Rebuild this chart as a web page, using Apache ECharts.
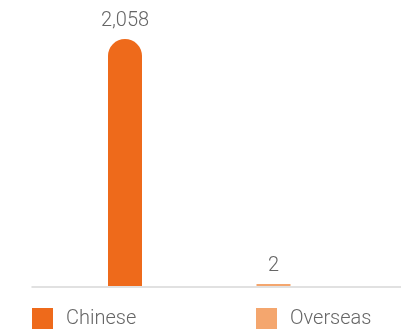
<!DOCTYPE html>
<html>
<head>
<meta charset="utf-8">
<script src="https://cdn.jsdelivr.net/npm/echarts@6/dist/echarts.min.js"></script>
<style>html,body{margin:0;padding:0;background:#fff}#c{width:401px;height:329px}</style>
</head>
<body>
<div id="c"></div>
<script>
var categories = ['Chinese', 'Overseas'];
var chineseValues = [2058, '-'];
var overseasValues = ['-', 2];
var colors = ['#EE6A1B', '#F4A66E'];

var chart = echarts.init(document.getElementById('c'), null, {renderer: 'canvas'});
var fontFamily = 'Roboto';
var labelCfg = {
  show: true, position: 'top', distance: 8,
  color: '#666', fontFamily: fontFamily, fontWeight: 300, fontSize: 20,
  formatter: function (p) { return Number(p.value).toLocaleString('en-US'); }
};
var legendText = {color: '#666', fontFamily: fontFamily, fontWeight: 300, fontSize: 20, padding: [0, 0, 0, 8]};
chart.setOption({
  animation: false,
  legend: [
    {data: [categories[0]], left: 32, bottom: 0, padding: 0, itemWidth: 21, itemHeight: 21, icon: 'rect', textStyle: legendText},
    {data: [categories[1]], left: 256, bottom: 0, padding: 0, itemWidth: 21, itemHeight: 21, icon: 'rect', textStyle: legendText}
  ],
  grid: [
    {left: 50.75, right: 53.25, top: 39, bottom: 43, containLabel: false},
    {left: 32, right: 0, top: 39, bottom: 42, containLabel: false}
  ],
  xAxis: [
    {type: 'category', gridIndex: 0, data: categories, axisLine: {show: false}, axisTick: {show: false}, axisLabel: {show: false}},
    {type: 'category', gridIndex: 1, data: [''], axisLine: {show: true, lineStyle: {color: '#d8d8d8', width: 1.5}}, axisTick: {show: false}, axisLabel: {show: false}}
  ],
  yAxis: [
    {type: 'value', gridIndex: 0, min: 0, max: 2058, show: false},
    {type: 'value', gridIndex: 1, min: 0, max: 1, show: false}
  ],
  series: [
    {name: categories[0], type: 'bar', xAxisIndex: 0, yAxisIndex: 0, data: chineseValues, barWidth: 34, barGap: '-100%',
     itemStyle: {color: colors[0], borderRadius: [17, 17, 0, 0]}, label: labelCfg, z: 3},
    {name: categories[1], type: 'bar', xAxisIndex: 0, yAxisIndex: 0, data: overseasValues, barWidth: 34, barGap: '-100%', barMinHeight: 2,
     itemStyle: {color: colors[1]}, label: labelCfg, z: 3}
  ]
});
</script>
</body>
</html>
